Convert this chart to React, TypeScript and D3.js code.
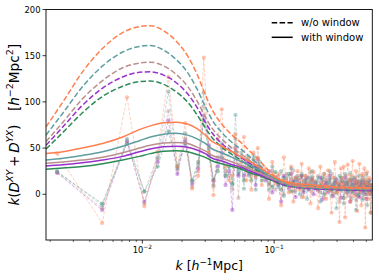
import React from "react";
import * as d3 from "d3";

const W = 379, H = 280;
const X0 = 46, X1 = 372.3, Y0 = 9.5, Y1 = 240;
const K_DOMAIN: [number, number] = [0.00186, 0.555];
const Y_DOMAIN: [number, number] = [-49.5, 200];

const Y_TICKS = [0, 50, 100, 150, 200];
const X_MAJOR = [0.01, 0.1];
const X_MAJOR_EXP = ["−2", "−1"];
const X_MINOR = [0.002, 0.003, 0.004, 0.005, 0.006, 0.007, 0.008, 0.009, 0.02, 0.03, 0.04, 0.05, 0.06, 0.07, 0.08, 0.09, 0.2, 0.3, 0.4, 0.5];

// measured k bins
const kPoints = [
  0.00226, 0.00496, 0.00766, 0.01036, 0.01306, 0.01576, 0.01846, 0.02116, 0.02386, 0.02656,
  0.02926, 0.03196, 0.03466, 0.03736, 0.04006, 0.04276, 0.04546, 0.04816, 0.05086, 0.05356,
  0.05626, 0.05896, 0.06166, 0.06436, 0.06706, 0.06976, 0.07246, 0.07516, 0.07786, 0.08056,
  0.0860, 0.0914, 0.0968, 0.1022, 0.1076, 0.1130, 0.1184, 0.1238, 0.1292, 0.1346, 0.1400,
  0.1454, 0.1508, 0.1562, 0.1616, 0.1670, 0.1724, 0.1778, 0.1832, 0.1886, 0.1940, 0.1994,
  0.2075, 0.2156, 0.2237, 0.2318, 0.2399, 0.2480, 0.2561, 0.2642, 0.2723, 0.2804, 0.2885,
  0.2966, 0.3047, 0.3128, 0.3209, 0.3290, 0.3371, 0.3452, 0.3533, 0.3614, 0.3695, 0.3776,
  0.3857, 0.3938, 0.4019, 0.4100, 0.4181, 0.4262, 0.4343, 0.4424, 0.4505, 0.4586, 0.4667,
  0.4748, 0.4829, 0.4910, 0.4991, 0.5072, 0.5153, 0.5234, 0.5315, 0.5396, 0.5477,
];

const noiseOrange = [
  44, -31, 105, -13, 46, 127, 30, 77, 6, 20, 148, 45, -1, 60, 92, 30, 15, 20, 65, 30, 35, 62, 15, 40, 5, 45, 20, 50, 25, 10,
  28, -5, 35, 12, 22, -12, 40, 15, 2, 30, -8, 18, 25, 5, 33, -3, 20, 10, 28, -10, 15, 24,
  8, -15, 30, 12, 22, -5, 26, 4, -20, 18, 35, 2, 12, -30, 28, 10, 30, -25, 6, 32, 15, -8, 20, 36, -2, 14, 25, -18, 10, 33, 5, -12, 22, 8, 28, -36, 12, 24, -5, 18, 2, -20, 10,
];
const noiseTeal = [
  25, -12, 60, 3, 40, 111, 28, 66, 14, 32, 110, 50, 10, 40, 55, 20, 50, 10, 86, 25, 45, 6, 40, 20, 30, 42, 5, 30, 35, 20,
  22, 5, 30, 15, 8, 25, -2, 18, 12, 28, 3, 15, 20, 0, 22, 10, 14, -5, 18, 8, 25, 12,
  6, 18, -8, 15, 22, 4, 12, 25, -2, 10, 18, -15, 8, 20, 5, 14, -10, 22, 12, 2, 16, 23, -5, 10, 18, 6, -17, 12, 20, 0, 8, 15, -6, 18, 4, 10, 22, -12, 6, 14, 2, -20, 10,
];
const noiseRosy = [
  24, -15, 58, -10, 38, 90, 26, 60, 8, 25, 95, 48, 8, 35, 50, 25, 20, 5, 60, -4, 40, 30, 25, 30, 20, 35, 18, 40, 22, 30,
  18, 10, 25, 5, 20, 14, 0, 22, 8, 16, 26, 4, 12, 18, -3, 15, 20, 6, 12, 24, 2, 14,
  10, 20, 2, 14, -4, 18, 8, 12, 22, 0, 10, 16, 4, -8, 14, 18, 6, 10, 20, -2, 12, 8, 16, 3, 10, 18, -6, 12, 6, 14, 2, 20, 8, -4, 10, 15, 5, 12, 0, 8, 16, 4, 10,
];
const noisePurple = [
  23, -17, 57, -8, 35, 80, 22, 58, 11, 28, 85, 53, 14, 30, 45, 10, 25, -17, 50, 20, 30, 20, 35, 22, 25, 30, 10, 38, 25, 20,
  15, 25, 2, 18, 10, -8, 20, 12, 6, 22, 14, -3, 16, 8, 20, 2, 12, 18, 5, 10, 16, 0,
  12, 4, 18, -6, 10, 14, 2, 20, 8, -2, 12, 16, 6, 10, -4, 14, 8, 18, 2, 12, 6, -8, 14, 10, 4, 16, 0, 12, 8, -3, 10, 14, 6, 2, 12, 8, -5, 10, 4, 14, 6, 0, 9,
];
const noiseGreen = [
  24, -10, 55, 3, 30, 68, 30, 55, 15, 35, 80, 42, 16, 25, 40, 20, 30, 12, 45, 22, 28, 15, 28, 35, 15, 38, 22, 30, 28, 15,
  20, 12, 8, 24, 15, 5, 18, 10, 22, 3, 14, 18, 8, 12, 20, 4, 16, 10, 6, 14, 18, 9,
  14, 6, 10, 18, 0, 12, 8, 16, 4, 10, 14, 2, 12, 8, 18, 6, -4, 12, 10, 14, 4, 8, 16, 2, 10, 12, 6, 14, -2, 8, 12, 4, 10, 6, 14, 0, 10, 8, 12, 4, 8, 10, 6,
];

// model curves (sampled)
const kModel = [0.00186, 0.0025, 0.0035, 0.005, 0.0071, 0.0095, 0.0115, 0.0145, 0.018, 0.022, 0.026, 0.03, 0.034, 0.04, 0.048, 0.057, 0.066, 0.078, 0.092, 0.11, 0.14, 0.2, 0.3, 0.555];

const dashOrange = [73, 100, 132, 158, 175, 181.5, 182.5, 177, 166, 150, 130, 108, 91, 76, 64, 55, 46, 36, 25, 16, 10, 8, 7, 6];
const dashTeal = [64, 88, 116, 139, 154, 160, 161, 156, 146, 132, 114, 95, 80, 67, 56, 48, 40, 31, 21, 14, 9, 7, 6, 5];
const dashRosy = [57, 78, 103, 123, 137, 142, 143, 139, 130, 117, 101, 84, 71, 60, 50, 43, 36, 28, 19, 13, 9, 7, 6, 5];
const dashPurple = [53, 73, 96, 115, 127, 132, 132.6, 129, 121, 109, 94, 78, 66, 55, 46, 39, 33, 26, 18, 12, 8, 6, 5, 4];
const dashGreen = [49, 67, 88, 106, 117, 122, 122.5, 119, 111, 100, 86, 72, 61, 51, 43, 36, 30, 24, 17, 11, 8, 6, 5, 4];

const solidOrange = [44, 46, 50, 55, 62, 70, 74, 77.5, 78, 76, 71, 64, 57, 52, 46, 40, 35, 29, 22, 16, 12, 10, 8, 7];
const solidTeal = [37, 39, 42, 46, 52, 58, 62, 65, 66, 64, 60, 55, 49, 45, 40, 35, 31, 26, 20, 15, 11, 9, 7, 6];
const solidRosy = [33.5, 35, 37, 40, 45, 50, 53, 55.5, 56, 55, 51, 47, 42, 39, 35, 31, 27, 23, 18, 14, 10, 8, 7, 6];
const solidPurple = [30.7, 32, 34, 37, 41, 46, 49, 51.5, 52, 51, 48, 44, 39, 36, 32, 29, 25, 21, 17, 13, 10, 8, 6, 5];
const solidGreen = [27, 28.5, 30, 33, 37, 41, 44, 46.5, 47, 46, 43, 40, 36, 33, 30, 27, 23, 20, 16, 12, 9, 7, 6, 5];

const COLORS = { orange: "#ff7f50", teal: "#5f9ea0", rosy: "#bc8f8f", purple: "#9932cc", green: "#2e8b57" };

const SERIES = [
  { key: "green", color: COLORS.green, noise: noiseGreen, dash: dashGreen, solid: solidGreen },
  { key: "purple", color: COLORS.purple, noise: noisePurple, dash: dashPurple, solid: solidPurple },
  { key: "rosy", color: COLORS.rosy, noise: noiseRosy, dash: dashRosy, solid: solidRosy },
  { key: "teal", color: COLORS.teal, noise: noiseTeal, dash: dashTeal, solid: solidTeal },
  { key: "orange", color: COLORS.orange, noise: noiseOrange, dash: dashOrange, solid: solidOrange },
];

const FONT = "DejaVu Sans, sans-serif";

export default function App() {
  const x = d3.scaleLog().domain(K_DOMAIN).range([X0, X1]);
  const y = d3.scaleLinear().domain(Y_DOMAIN).range([Y1, Y0]);
  const straight = d3.line<[number, number]>().x((d) => x(d[0])).y((d) => y(d[1]));
  const smooth = d3.line<[number, number]>().x((d) => x(d[0])).y((d) => y(d[1])).curve(d3.curveMonotoneX);

  const noisePts = (arr: number[]) => {
    const n = Math.min(arr.length, kPoints.length);
    return d3.range(n).map((i) => [kPoints[i], arr[i]] as [number, number]);
  };
  const modelPts = (arr: number[]) => kModel.map((k, i) => [k, arr[i]] as [number, number]);

  return (
    <svg width={W} height={H} style={{ position: "absolute", left: 0, top: 0, background: "#fff" }} fontFamily={FONT}>
      <defs>
        <clipPath id="plotclip">
          <rect x={X0} y={Y0} width={X1 - X0} height={Y1 - Y0} />
        </clipPath>
      </defs>
      <rect x={0} y={0} width={W} height={H} fill="#fff" />
      <g clipPath="url(#plotclip)">
        {SERIES.map((s) => {
          const pts = noisePts(s.noise);
          return (
            <g key={"n" + s.key}>
              <path d={straight(pts) || ""} fill="none" stroke={s.color} strokeOpacity={0.4} strokeWidth={0.9} strokeDasharray="3.3,1.5" />
              {pts.map((p, i) => (
                <circle key={i} cx={x(p[0])} cy={y(p[1])} r={2.1} fill={s.color} fillOpacity={0.45} />
              ))}
            </g>
          );
        })}
        {SERIES.map((s) => (
          <g key={"m" + s.key}>
            <path d={smooth(modelPts(s.dash)) || ""} fill="none" stroke={s.color} strokeWidth={1.5} strokeDasharray="5.5,2.4" />
            <path d={smooth(modelPts(s.solid)) || ""} fill="none" stroke={s.color} strokeWidth={1.5} />
          </g>
        ))}
      </g>
      {/* axes frame */}
      <rect x={X0} y={Y0} width={X1 - X0} height={Y1 - Y0} fill="none" stroke="#000" strokeWidth={0.9} />
      {/* y ticks */}
      {Y_TICKS.map((t) => (
        <g key={"y" + t}>
          <line x1={X0 - 3.5} x2={X0} y1={y(t)} y2={y(t)} stroke="#000" strokeWidth={0.8} />
          <text x={X0 - 5.5} y={y(t)} dy="0.36em" textAnchor="end" fontSize={8.4} fill="#000">{t}</text>
        </g>
      ))}
      {/* x ticks */}
      {X_MINOR.map((t) => (
        <line key={"xm" + t} x1={x(t)} x2={x(t)} y1={Y1} y2={Y1 + 2} stroke="#000" strokeWidth={0.6} />
      ))}
      {X_MAJOR.map((t, i) => (
        <g key={"x" + t}>
          <line x1={x(t)} x2={x(t)} y1={Y1} y2={Y1 + 3.5} stroke="#000" strokeWidth={0.8} />
          <text x={x(t)} y={Y1 + 13} textAnchor="middle" fontSize={8.3} fill="#000">
            10<tspan fontSize={5.9} dy={-3.8}>{X_MAJOR_EXP[i]}</tspan>
          </text>
        </g>
      ))}
      {/* x label */}
      <text x={(X0 + X1) / 2} y={270} textAnchor="middle" fontSize={12.5} fill="#000">
        <tspan fontStyle="italic">k</tspan> [<tspan fontStyle="italic">h</tspan>
        <tspan fontSize={8.8} dy={-5}>−1</tspan>
        <tspan dy={5}>Mpc]</tspan>
      </text>
      {/* y label */}
      <text transform={`translate(18.5, ${(Y0 + Y1) / 2}) rotate(-90)`} textAnchor="middle" fontSize={13.6} fill="#000">
        <tspan fontStyle="italic">k</tspan>(<tspan fontStyle="italic">D</tspan>
        <tspan fontSize={9.5} dy={-5.5} fontStyle="italic">XY</tspan>
        <tspan dy={5.5}>{"\u2009+\u2009"}</tspan><tspan fontStyle="italic">D</tspan>
        <tspan fontSize={9.5} dy={-5.5} fontStyle="italic">YX</tspan>
        <tspan dy={5.5}>{")\u2002\u2002["}</tspan><tspan fontStyle="italic">h</tspan>
        <tspan fontSize={9.5} dy={-5.5}>−2</tspan>
        <tspan dy={5.5}>Mpc</tspan>
        <tspan fontSize={9.5} dy={-5.5}>2</tspan>
        <tspan dy={5.5}>]</tspan>
      </text>
      {/* legend */}
      <line x1={271.7} x2={292.7} y1={22.7} y2={22.7} stroke="#000" strokeWidth={1.5} strokeDasharray="5.5,2.4" />
      <text x={301} y={26.3} fontSize={10} fill="#000">w/o window</text>
      <line x1={271.7} x2={292.7} y1={37.3} y2={37.3} stroke="#000" strokeWidth={1.5} />
      <text x={301} y={40.9} fontSize={10} fill="#000">with window</text>
    </svg>
  );
}
